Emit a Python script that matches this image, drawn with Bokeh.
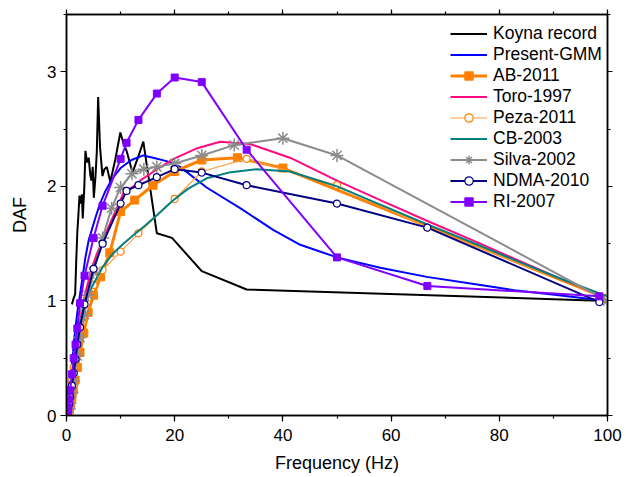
from bokeh.plotting import figure
from bokeh.models import Range1d, LinearAxis, SingleIntervalTicker, Legend, LegendItem
from bokeh.embed import file_html
from bokeh.resources import INLINE

# ---------------- data ----------------
koyna_f = [1.0, 1.3, 1.6, 1.8, 2.0, 2.2, 2.4, 2.6, 2.85, 3.0, 3.3, 3.5, 3.8, 4.1, 4.4, 4.6,
           4.85, 5.05, 5.35, 5.6, 5.85, 6.2, 6.65, 7.0, 7.45, 7.9, 8.1, 9.0, 9.95, 10.5, 11.1,
           12.2, 13.2, 14.2, 16.7, 19.5, 25.0, 33.3, 100.0]
koyna_y = [0.97, 1.02, 1.06, 1.35, 1.6, 1.75, 1.92, 1.85, 1.93, 1.72, 2.0, 2.31, 2.21, 2.25,
           2.1, 2.05, 2.17, 1.9, 2.08, 2.3, 2.78, 2.34, 2.09, 2.15, 2.17, 2.08, 2.04, 2.23, 2.47,
           2.38, 2.31, 2.12, 2.25, 2.39, 1.59, 1.55, 1.26, 1.10, 1.0]

gmm_f = [0.2, 0.5, 1.0, 1.5, 2.0, 2.64, 3.5, 4.1, 5.3, 6.2, 7.2, 8.5, 10.0, 12.0, 14.2, 16.0,
         18.5, 21.0, 25.9, 32.1, 38.2, 43.2, 50.0, 58.0, 66.6, 75.0, 83.2, 91.0, 100.0]
gmm_y = [0.06, 0.2, 0.45, 0.7, 0.9, 1.1, 1.38, 1.53, 1.72, 1.85, 1.96, 2.07, 2.16, 2.23, 2.27,
         2.25, 2.22, 2.17, 1.99, 1.81, 1.62, 1.49, 1.38, 1.29, 1.21, 1.15, 1.09, 1.05, 1.0]

ab_f = [0.2, 0.25, 0.32, 0.4, 0.5, 0.63, 0.8, 1.0, 1.26, 1.6, 2.0, 2.5, 3.2, 4.0, 5.0, 6.3,
        8.0, 10.0, 12.6, 16.0, 20.0, 25.0, 31.6, 40.0, 100.0]
ab_y = [0.01, 0.01, 0.02, 0.03, 0.05, 0.08, 0.11, 0.16, 0.22, 0.31, 0.42, 0.55, 0.72, 0.9,
        1.05, 1.21, 1.42, 1.78, 1.88, 2.01, 2.13, 2.23, 2.25, 2.16, 1.02]

toro_f = [0.2, 0.5, 1.0, 1.5, 2.0, 2.9, 3.6, 4.7, 5.6, 6.6, 8.0, 9.0, 10.6, 12.4, 13.6, 16.1,
          19.8, 24.0, 28.4, 33.9, 41.3, 50.0, 58.0, 66.6, 75.0, 83.2, 91.0, 100.0]
toro_y = [0.04, 0.14, 0.32, 0.5, 0.66, 0.95, 1.09, 1.29, 1.41, 1.52, 1.67, 1.78, 1.95, 2.0,
          2.05, 2.13, 2.24, 2.33, 2.39, 2.37, 2.25, 2.05, 1.88, 1.70, 1.53, 1.36, 1.20, 1.03]

peza_f = [0.25, 0.33, 0.5, 0.67, 1.0, 1.33, 2.0, 2.5, 3.33, 4.0, 5.0, 6.67, 10.0, 13.3, 20.0,
          25.0, 33.3, 50.0, 66.7, 100.0]
peza_y = [0.03, 0.06, 0.12, 0.19, 0.3, 0.42, 0.62, 0.76, 0.93, 1.03, 1.14, 1.27, 1.43, 1.59,
          1.89, 2.13, 2.24, 2.01, 1.64, 1.03]

cb_f = [0.2, 0.5, 1.0, 1.5, 2.0, 2.5, 3.2, 4.0, 5.0, 6.6, 8.5, 10.3, 12.5, 14.6, 17.0, 19.5,
        22.5, 25.9, 30.0, 35.2, 41.3, 50.0, 58.0, 66.6, 75.0, 83.2, 91.0, 100.0]
cb_y = [0.03, 0.12, 0.3, 0.48, 0.64, 0.8, 0.95, 1.06, 1.15, 1.29, 1.41, 1.49, 1.58, 1.66,
        1.76, 1.87, 1.98, 2.07, 2.12, 2.15, 2.13, 2.0, 1.84, 1.67, 1.51, 1.35, 1.20, 1.04]

silva_f = [0.5, 0.67, 1.0, 1.33, 2.0, 2.5, 3.33, 4.0, 5.0, 6.67, 8.33, 10.0, 12.1, 14.3, 16.7,
           20.0, 25.0, 31.0, 40.0, 50.0, 100.0]
silva_y = [0.06, 0.11, 0.2, 0.3, 0.52, 0.68, 0.88, 1.05, 1.25, 1.55, 1.81, 1.99, 2.11, 2.15,
           2.17, 2.20, 2.27, 2.36, 2.42, 2.27, 1.0]

ndma_f = [0.5, 0.67, 1.0, 1.33, 1.67, 2.0, 2.5, 3.33, 5.0, 6.67, 10.0, 11.1, 13.3, 16.7, 20.0,
          25.0, 33.3, 50.0, 66.7, 98.5]
ndma_y = [0.1, 0.16, 0.26, 0.37, 0.49, 0.62, 0.77, 0.97, 1.28, 1.50, 1.85, 1.96, 2.01, 2.08,
          2.15, 2.12, 2.01, 1.85, 1.64, 0.99]

ri_f = [0.2, 0.25, 0.33, 0.5, 0.67, 1.0, 1.33, 1.67, 2.0, 2.5, 3.33, 5.0, 6.67, 10.0, 11.1,
        13.3, 16.7, 20.0, 25.0, 33.3, 50.0, 66.7, 98.5]
ri_y = [0.02, 0.04, 0.07, 0.14, 0.22, 0.36, 0.5, 0.62, 0.76, 0.98, 1.22, 1.55, 1.83, 2.24,
        2.38, 2.58, 2.81, 2.95, 2.91, 2.32, 1.38, 1.13, 1.04]

x_ticks_interval = 20
y_ticks_interval = 1

FONT = "Liberation Sans"

p = figure(width=626, height=477,
           x_range=Range1d(0, 100), y_range=Range1d(0, 3.5),
           output_backend="svg", toolbar_location=None,
           min_border_left=66, min_border_right=19, min_border_top=14, min_border_bottom=62)
p.xgrid.visible = False
p.ygrid.visible = False
p.outline_line_color = "black"
p.outline_line_width = 1.5
p.background_fill_color = "white"
p.border_fill_color = "white"

p.xaxis.ticker = SingleIntervalTicker(interval=x_ticks_interval, num_minor_ticks=2)
p.yaxis.ticker = SingleIntervalTicker(interval=y_ticks_interval, num_minor_ticks=2)
p.xaxis.axis_label = "Frequency (Hz)"
p.yaxis.axis_label = "DAF"

for ax in (p.xaxis[0], p.yaxis[0]):
    ax.axis_line_width = 1.5
    ax.major_tick_line_width = 1.2
    ax.minor_tick_line_width = 1.2
    ax.major_tick_in = 0
    ax.major_tick_out = 6
    ax.minor_tick_in = 0
    ax.minor_tick_out = 3
    ax.major_label_text_font = FONT
    ax.major_label_text_font_size = "17px"
    ax.major_label_text_color = "black"
    ax.axis_label_text_font = FONT
    ax.axis_label_text_font_size = "18px"
    ax.axis_label_text_font_style = "normal"
    ax.axis_label_text_color = "black"
p.xaxis.major_label_standoff = 7
p.xaxis.axis_label_standoff = 9
p.yaxis.major_label_standoff = 4
p.yaxis.axis_label_standoff = 14

top = LinearAxis(ticker=SingleIntervalTicker(interval=x_ticks_interval, num_minor_ticks=2))
right = LinearAxis(ticker=SingleIntervalTicker(interval=y_ticks_interval, num_minor_ticks=2))
for ax in (top, right):
    ax.axis_line_width = 1.5
    ax.major_tick_line_width = 1.2
    ax.minor_tick_line_width = 1.2
    ax.major_tick_in = 0
    ax.major_tick_out = 5
    ax.minor_tick_in = 0
    ax.minor_tick_out = 3
    ax.major_label_text_font_size = "1px"
    ax.major_label_text_color = None
    ax.major_label_standoff = 0
p.add_layout(top, "above")
p.add_layout(right, "right")

items = []

r = p.line(koyna_f, koyna_y, line_color="black", line_width=2)
items.append(LegendItem(label="Koyna record", renderers=[r]))

r = p.line(gmm_f, gmm_y, line_color="#0000FF", line_width=2)
items.append(LegendItem(label="Present-GMM", renderers=[r]))

r1 = p.line(ab_f, ab_y, line_color="#FF8000", line_width=3)
r2 = p.scatter(ab_f, ab_y, marker="square", size=8, fill_color="#FF8000", line_color="#FF8000")
items.append(LegendItem(label="AB-2011", renderers=[r1, r2]))

r = p.line(toro_f, toro_y, line_color="#FF0A80", line_width=2)
items.append(LegendItem(label="Toro-1997", renderers=[r]))

r1 = p.line(peza_f, peza_y, line_color="#FFA040", line_width=1.2)
r2 = p.scatter(peza_f, peza_y, marker="circle", size=7, fill_color="white",
               line_color="#FF8000", line_width=1.2)
items.append(LegendItem(label="Peza-2011", renderers=[r1, r2]))

r = p.line(cb_f, cb_y, line_color="#008080", line_width=2)
items.append(LegendItem(label="CB-2003", renderers=[r]))

r1 = p.line(silva_f, silva_y, line_color="#8C8C8C", line_width=2)
r2 = p.scatter(silva_f, silva_y, marker="asterisk", size=13, line_color="#8C8C8C", line_width=1.5)
items.append(LegendItem(label="Silva-2002", renderers=[r1, r2]))

r1 = p.line(ndma_f, ndma_y, line_color="#000080", line_width=2)
r2 = p.scatter(ndma_f, ndma_y, marker="circle", size=7, fill_color="white",
               line_color="#000080", line_width=1.2)
items.append(LegendItem(label="NDMA-2010", renderers=[r1, r2]))

r1 = p.line(ri_f, ri_y, line_color="#8000FF", line_width=2)
r2 = p.scatter(ri_f, ri_y, marker="square", size=7, fill_color="#8000FF", line_color="#8000FF")
items.append(LegendItem(label="RI-2007", renderers=[r1, r2]))

legend = Legend(items=items, location=(384, 203))
legend.label_text_font = FONT
legend.label_text_font_size = "17.5px"
legend.label_text_color = "black"
legend.glyph_width = 37
legend.glyph_height = 21
legend.label_height = 21
legend.label_standoff = 6
legend.spacing = 0
legend.padding = 0
legend.margin = 0
legend.border_line_color = None
legend.background_fill_alpha = 0
p.add_layout(legend, "center")

open("out.html", "w").write(file_html(p, INLINE))
